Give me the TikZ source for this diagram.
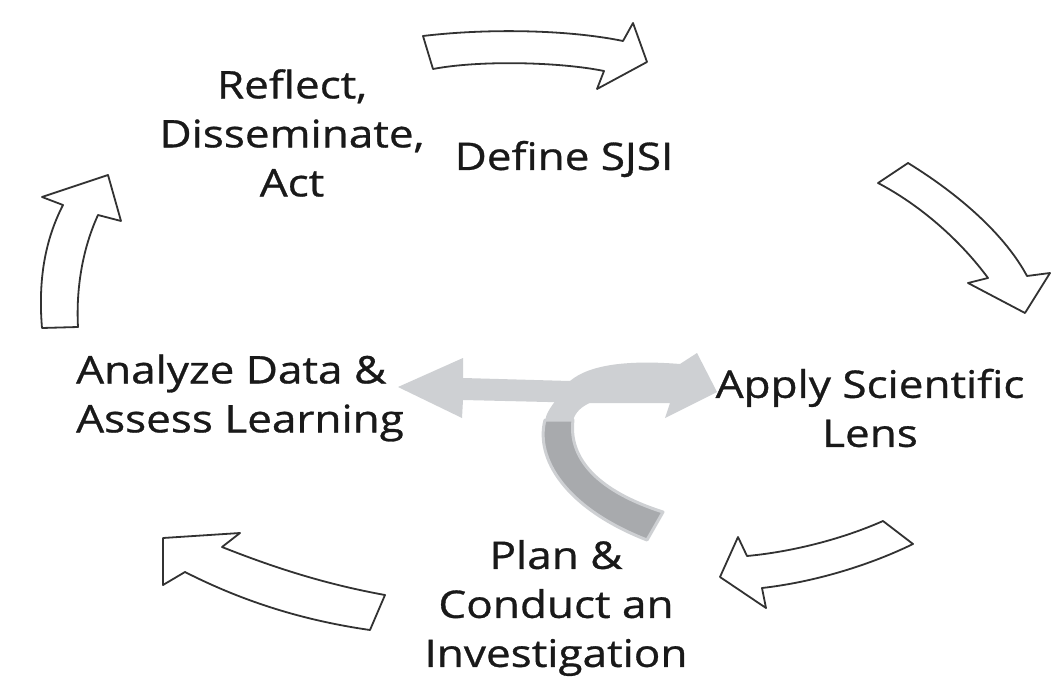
\documentclass[tikz,border=0pt]{standalone}
\usepackage{fontspec}
\setmainfont{Open Sans}[FakeStretch=1.16, FakeBold=0.8]
\definecolor{outl}{RGB}{50,50,50}
\definecolor{lightg}{RGB}{206,208,211}
\definecolor{darkg}{RGB}{168,170,173}
\definecolor{txt}{RGB}{25,25,25}
\tikzset{
  cyclearrow/.style={draw=outl, fill=white, line width=1.8pt, line join=round},
  lbl/.style={text=txt, inner sep=0pt, align=center, font=\fontsize{38}{49}\selectfont},
}
\begin{document}
\begin{tikzpicture}[x=1pt,y=-1pt]
\useasboundingbox (0,0) rectangle (1063,677);
\fill[white] (0,0) rectangle (1063,677);

% cycle arrows
\draw[cyclearrow] (423,36) .. controls (490,28) and (570,30) .. (623,41) -- (633,23) -- (647,62) -- (597,89) -- (604,71) .. controls (560,62) and (480,60) .. (433,69) -- cycle;
\draw[cyclearrow] (908,163) .. controls (960,195) and (1005,235) .. (1027,276) -- (1050,273) -- (1025,313) -- (968,283) -- (988,278) .. controls (960,240) and (920,205) .. (878,183) -- cycle;
\draw[cyclearrow] (883,521) .. controls (840,540) and (790,552) .. (747,556) -- (738,537) -- (720,577) -- (766,608) -- (762,588) .. controls (815,582) and (870,565) .. (913,544) -- cycle;
\draw[cyclearrow] (163,538) -- (240,533) -- (222,547) .. controls (280,570) and (330,585) .. (385,595) -- (370,630) .. controls (300,620) and (240,600) .. (185,572) -- (163,585) -- cycle;
\draw[cyclearrow] (42,328) .. controls (38,280) and (45,240) .. (63,205) -- (42,197) -- (108,175) -- (121,221) -- (98,215) .. controls (82,250) and (76,290) .. (78,327) -- cycle;

% central arrows
\fill[lightg] (398,387) -- (463,358) -- (463,378) -- (570,381) .. controls (590,364) and (630,360) .. (680,364) -- (697,353) -- (717,392) -- (665,418) -- (670,403) -- (590,403) -- (463,400) -- (462,418) -- cycle;
\fill[lightg] (556,400) .. controls (550,408) and (546,414) .. (545,421) -- (573,421) .. controls (575,412) and (582,406) .. (592,402) -- cycle;
\filldraw[fill=darkg, draw=lightg, line width=3pt, line join=round] (545,420) .. controls (535,458) and (565,508) .. (647,540) -- (663,512) .. controls (600,492) and (568,460) .. (573,420) -- cycle;

% labels
\node[lbl] (reflect) at (292,133) {Reflect,\\Disseminate,\\Act};
\node[lbl] (define) at (564,159) {Define SJSI};
\node[lbl, align=left, anchor=west] (analyze) at (76,398) {Analyze Data \&\\Assess Learning};
\node[lbl] (apply) at (870,408) {Apply Scientific\\Lens};
\node[lbl] (plan) at (556,608) {Plan \&\\Conduct an\\Investigation};
\end{tikzpicture}
\end{document}
